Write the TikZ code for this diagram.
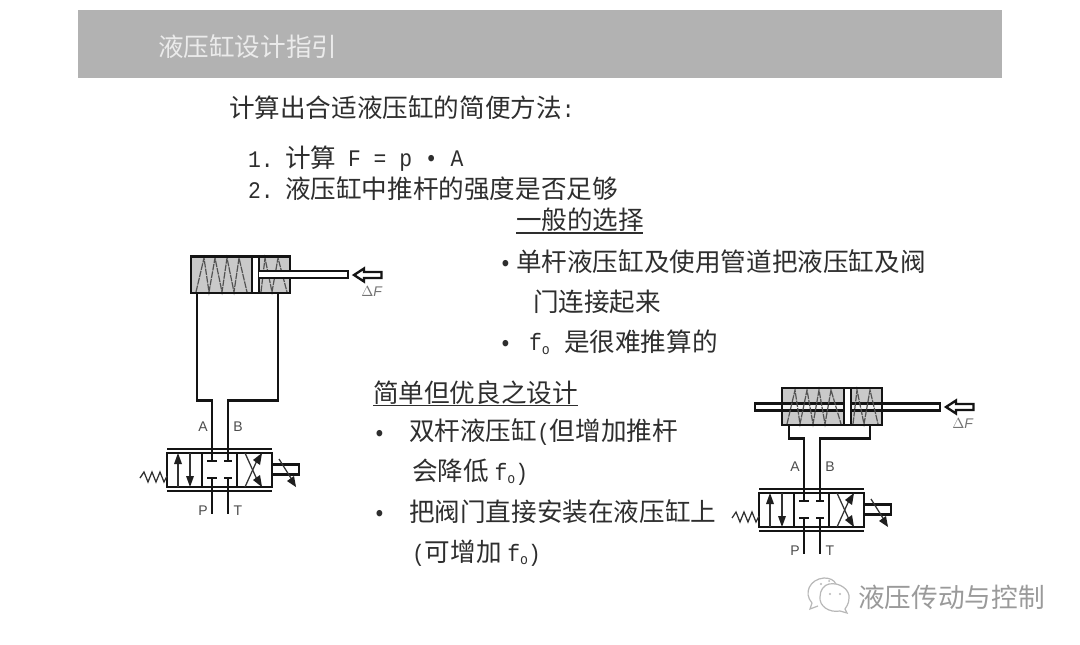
\documentclass[tikz,border=0pt]{standalone}
\usepackage{fontspec}
\usetikzlibrary{arrows.meta}
\setmainfont{Noto Sans CJK SC}
\newfontfamily\cjkfont{Noto Sans CJK SC}
\newfontfamily\latfont[FakeStretch=0.9]{Liberation Mono}
\newfontfamily\labfont{Liberation Sans}
\newcommand{\lat}[1]{{\latfont\fontsize{17.8}{20}\selectfont #1}}
\newcommand{\fsub}{\lat{f}\raisebox{-2.5pt}{\latfont\fontsize{11}{10}\selectfont o}}
\newcommand{\st}{\vphantom{计}}
\definecolor{barcol}{HTML}{B2B2B2}
\definecolor{inkcol}{HTML}{2E2E2E}
\definecolor{cylcol}{HTML}{C9C9C9}
\definecolor{wmcol}{HTML}{9A9A9A}
\tikzset{
  x=0.75pt,y=-0.75pt,
  txt/.style={anchor=west,inner sep=0pt,outer sep=0pt,text=inkcol,font=\cjkfont\fontsize{19.2}{22}\selectfont},
  lab/.style={inner sep=0pt,text=black!70,font=\labfont\fontsize{10.5}{12}\selectfont},
  df/.style={inner sep=0pt,text=black!55,font=\labfont\fontsize{10.5}{12}\selectfont},
  pipe/.style={draw=black!92,line width=1.75pt},
  thin line/.style={draw=black!80,line width=0.95pt},
  heavy/.style={draw=black!92,line width=1.75pt},
  coilline/.style={draw=black!68,line width=0.9pt,dash pattern=on 5pt off 0.7pt},
  headtip/.style={fill=black!88,draw=none},
}
\newcommand{\valve}[2]{%
\begin{scope}[shift={(#1,#2)}]
  \draw[heavy] (167,449)--(272,449);
  \draw[heavy] (167,491)--(272,491);
  \draw[heavy] (167,453) rectangle (272,487);
  \draw[heavy] (202,453)--(202,487);
  \draw[heavy] (237,453)--(237,487);
  \draw[thin line] (178,487)--(178,458);
  \fill[headtip] (178,453)--(174,464)--(182,464)--cycle;
  \draw[thin line] (190,453)--(190,482);
  \fill[headtip] (190,487)--(186,476)--(194,476)--cycle;
  \draw[thin line] (245,453)--(259,484);
  \fill[headtip] (262,487)--(253,480)--(260,475)--cycle;
  \draw[thin line] (245,487)--(259,456);
  \fill[headtip] (262,453)--(253,460)--(260,465)--cycle;
  \draw[heavy] (207,461)--(217,461);
  \draw[heavy] (224,461)--(232,461);
  \draw[heavy] (207,478)--(217,478);
  \draw[heavy] (224,478)--(232,478);
  \draw[heavy] (212,478)--(212,514);
  \draw[heavy] (228,478)--(228,514);
  \draw[thin line] (140,478)--(144,472)--(148,482)--(152,472)--(156,482)--(160,472)--(164,482)--(167,476);
  \draw[heavy] (272,464.5)--(299,464.5)--(299,474.5)--(272,474.5);
  \draw[thin line] (279,459)--(294,483);
  \fill[headtip] (296,487)--(287,481)--(294,476)--cycle;
  \node[lab] (pl#1) at (203,511) {P};
  \node[lab] (tl#1) at (238,511) {T};
  \node[lab] (al#1) at (203,427) {A};
  \node[lab] (bl#1) at (238,427) {B};
\end{scope}}
\begin{document}
\begin{tikzpicture}
\useasboundingbox (0,0) rectangle (1080,645);
\fill[white] (0,0) rectangle (1080,645);
\fill[barcol] (78,10) rectangle (1002,78);
\node[txt,text=white!92!black] (title) at (158,47) {液压缸设计指引};

\node[txt] (head) at (229,108) {计算出合适液压缸的简便方法\lat{:}};
\node[txt] (n1) at (248,158) {\st\lat{1.}};
\node[txt] (n1a) at (285,158) {计算};
\node[txt] (n1b) at (348,158) {\st\lat{F = p • A}};
\node[txt] (n2) at (248,189) {\st\lat{2.}};
\node[txt] (n2a) at (285,189) {液压缸中推杆的强度是否足够};

\node[txt] (sel) at (516,220) {一般的选择};
\draw[inkcol,line width=0.8pt] (516,233)--(643,233);
\node[txt] (b1) at (499,262) {\st\lat{•}};
\node[txt] (s1) at (516,262) {单杆液压缸及使用管道把液压缸及阀};
\node[txt] (s2) at (533,302) {门连接起来};
\node[txt] (b2) at (499,342) {\st\lat{•}};
\node[txt] (s3f) at (529,342) {\st\fsub};
\node[txt] (s3) at (564,342) {是很难推算的};

\node[txt] (good) at (373,393) {简单但优良之设计};
\draw[inkcol,line width=0.8pt] (373,405.5)--(578,405.5);
\node[txt] (b3) at (373,432) {\st\lat{•}};
\node[txt] (g1) at (409,432) {双杆液压缸\lat{(}但增加推杆};
\node[txt] (g2) at (412,472) {会降低 \fsub\lat{)}};
\node[txt] (b4) at (373,512) {\st\lat{•}};
\node[txt] (g3) at (409,512) {把阀门直接安装在液压缸上};
\node[txt] (g4) at (412,553) {\lat{(}可增加 \fsub\lat{)}};

% left cylinder
\fill[cylcol] (191,256.5) rectangle (290,293);
\draw[coilline] (196,292)--(204,258)--(209,292)--(215,258)--(222,292)--(227,258)--(234,292)--(239,258)--(247,292);
\draw[coilline] (261,292)--(265,258)--(272,292)--(278,258)--(287,292);
\draw[heavy] (191,256.5) rectangle (290,293);
\draw[heavy,fill=white] (252,256.5) rectangle (259,293);
\draw[heavy,fill=white] (259,271)--(348,271)--(348,278)--(259,278);
\draw[pipe] (197,293)--(197,400.5)--(212,400.5)--(212,461);
\draw[pipe] (278,293)--(278,400.5)--(228,400.5)--(228,461);
\draw[heavy,fill=white] (354,275)--(364,268.5)--(364,272)--(381.5,272)--(381.5,278)--(364,278)--(364,281.5)--cycle;
\node[df] (dfl) at (372,292) {$\Delta$\textit{F}};
\valve{0}{0}

% right cylinder
\fill[cylcol] (782,388) rectangle (882,425);
\draw[heavy,fill=white,fill opacity=0.8] (755,403.5) rectangle (844,410.5);
\draw[heavy,fill=white,fill opacity=0.8] (851,403.5) rectangle (940,410.5);
\draw[coilline] (787,424)--(795,390)--(800,424)--(807,390)--(813,424)--(819,390)--(825,424)--(831,390)--(841,424);
\draw[coilline] (853,424)--(857,390)--(864,424)--(870,390)--(878,424);
\draw[heavy] (782,388) rectangle (882,425);
\draw[heavy,fill=white] (844,388) rectangle (851,425);
\draw[pipe] (789,425)--(789,438.5)--(804,438.5)--(804,501);
\draw[pipe] (870,425)--(870,438.5)--(820,438.5)--(820,501);
\draw[heavy,fill=white] (946,407)--(956,400.5)--(956,404)--(973.5,404)--(973.5,410)--(956,410)--(956,413.5)--cycle;
\node[df] (dfr) at (963,424) {$\Delta$\textit{F}};
\valve{592}{40}

% watermark
\draw[wmcol!70,line width=0.9pt] (812,603) .. controls (803,593) and (810,579) .. (824,578) .. controls (830,578) and (834,580) .. (836,584);
\draw[wmcol!70,line width=0.9pt] (812,603) -- (810,609) -- (818,606);
\draw[wmcol!70,line width=0.9pt,fill=white] (829,584) .. controls (840,582) and (850,590) .. (849,598) .. controls (849,604) and (846,607) .. (845,609) -- (847,613) -- (840,611) .. controls (829,613) and (819,606) .. (820,597) .. controls (820,590) and (824,585) .. (829,584) -- cycle;
\fill[wmcol!70] (830,594) circle (1.2) (840,594) circle (1.2) (821,584) circle (1.1) (829,581) circle (1);
\node[anchor=west,inner sep=0pt,text=wmcol,font=\cjkfont\fontsize{20}{22}\selectfont] (wm) at (858,597) {液压传动与控制};
\end{tikzpicture}
\end{document}
